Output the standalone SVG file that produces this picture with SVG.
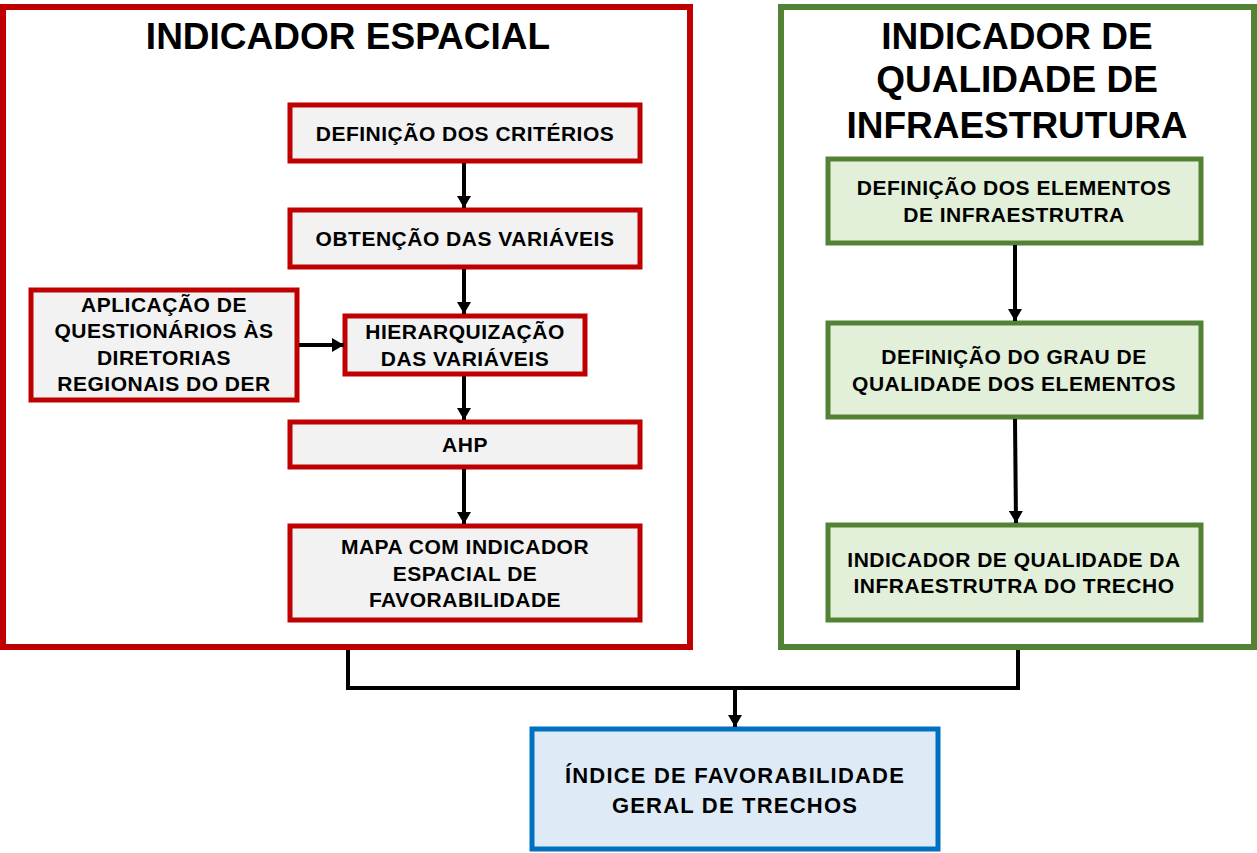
<svg xmlns="http://www.w3.org/2000/svg" width="1257" height="853" viewBox="0 0 1257 853">
<defs>
<style>
text{font-family:"Liberation Sans",Arial,sans-serif;font-weight:bold;fill:#000;text-anchor:middle}
.title{font-size:37px}
.t{font-size:21px;letter-spacing:0.5px}
.tb{font-size:22px;letter-spacing:1.2px}
.red{fill:#F2F2F2;stroke:#C00000;stroke-width:5}
.grn{fill:#E2F0D9;stroke:#548235;stroke-width:5}
.blu{fill:#DEEBF7;stroke:#0070C0;stroke-width:5}
.con{fill:none;stroke:#000;stroke-width:4}
</style>
<marker id="ah" viewBox="0 0 12 14" refX="12" refY="7" markerWidth="12" markerHeight="14" markerUnits="userSpaceOnUse" orient="auto">
<path d="M0,0 L12,7 L0,14 Z" fill="#000"/>
</marker>
</defs>
<rect width="1257" height="853" fill="#fff"/>

<g id="frame-espacial">
<rect x="3" y="7" width="687" height="640" fill="none" stroke="#C00000" stroke-width="6"/>
<text class="title" x="348" y="49">INDICADOR ESPACIAL</text>
</g>
<g id="frame-qualidade">
<rect x="781" y="7" width="473" height="640" fill="none" stroke="#548235" stroke-width="6"/>
<text class="title" x="1017" y="49">INDICADOR DE</text>
<text class="title" x="1017" y="92">QUALIDADE DE</text>
<text class="title" x="1017" y="138">INFRAESTRUTURA</text>
</g>

<g id="n-criterios">
<rect class="red" x="290" y="105" width="350" height="56"/>
<text class="t" x="465" y="141">DEFINIÇÃO DOS CRITÉRIOS</text>
</g>
<g id="n-variaveis">
<rect class="red" x="290" y="210" width="350" height="57"/>
<text class="t" x="465" y="246">OBTENÇÃO DAS VARIÁVEIS</text>
</g>
<g id="n-questionarios">
<rect class="red" x="31" y="290" width="266" height="110"/>
<text class="t" x="164" y="312">APLICAÇÃO DE</text>
<text class="t" x="164" y="338">QUESTIONÁRIOS ÀS</text>
<text class="t" x="164" y="365">DIRETORIAS</text>
<text class="t" x="164" y="391">REGIONAIS DO DER</text>
</g>
<g id="n-hierarquizacao">
<rect class="red" x="345" y="316" width="240" height="58"/>
<text class="t" x="465" y="339">HIERARQUIZAÇÃO</text>
<text class="t" x="465" y="366">DAS VARIÁVEIS</text>
</g>
<g id="n-ahp">
<rect class="red" x="290" y="422" width="350" height="45"/>
<text class="t" x="465" y="452">AHP</text>
</g>
<g id="n-mapa">
<rect class="red" x="290" y="526" width="350" height="94"/>
<text class="t" x="465" y="554">MAPA COM INDICADOR</text>
<text class="t" x="465" y="581">ESPACIAL DE</text>
<text class="t" x="465" y="607">FAVORABILIDADE</text>
</g>

<g id="n-elementos">
<rect class="grn" x="828" y="159" width="373" height="84"/>
<text class="t" x="1014" y="195">DEFINIÇÃO DOS ELEMENTOS</text>
<text class="t" x="1014" y="222">DE INFRAESTRUTRA</text>
</g>
<g id="n-grau">
<rect class="grn" x="828" y="323" width="373" height="94"/>
<text class="t" x="1014" y="364">DEFINIÇÃO DO GRAU DE</text>
<text class="t" x="1014" y="391">QUALIDADE DOS ELEMENTOS</text>
</g>
<g id="n-indicador-qual">
<rect class="grn" x="828" y="525" width="373" height="95"/>
<text class="t" x="1014" y="567">INDICADOR DE QUALIDADE DA</text>
<text class="t" x="1014" y="593">INFRAESTRUTRA DO TRECHO</text>
</g>

<g id="n-indice">
<rect class="blu" x="532" y="729" width="406" height="120"/>
<text class="tb" x="735" y="783">ÍNDICE DE FAVORABILIDADE</text>
<text class="tb" x="735" y="813">GERAL DE TRECHOS</text>
</g>

<g id="connectors">
<line class="con" x1="464" y1="163" x2="464" y2="208" marker-end="url(#ah)"/>
<line class="con" x1="464" y1="269" x2="464" y2="314" marker-end="url(#ah)"/>
<line class="con" x1="299" y1="345" x2="344" y2="345" marker-end="url(#ah)"/>
<line class="con" x1="464" y1="376" x2="464" y2="420" marker-end="url(#ah)"/>
<line class="con" x1="464" y1="469" x2="464" y2="524" marker-end="url(#ah)"/>
<line class="con" x1="1015" y1="245" x2="1015" y2="321" marker-end="url(#ah)"/>
<line class="con" x1="1015" y1="419" x2="1016" y2="523" marker-end="url(#ah)"/>
<polyline class="con" points="348,650 348,688 1018,688 1018,650"/>
<line class="con" x1="735" y1="688" x2="735" y2="727" marker-end="url(#ah)"/>
</g>
</svg>
